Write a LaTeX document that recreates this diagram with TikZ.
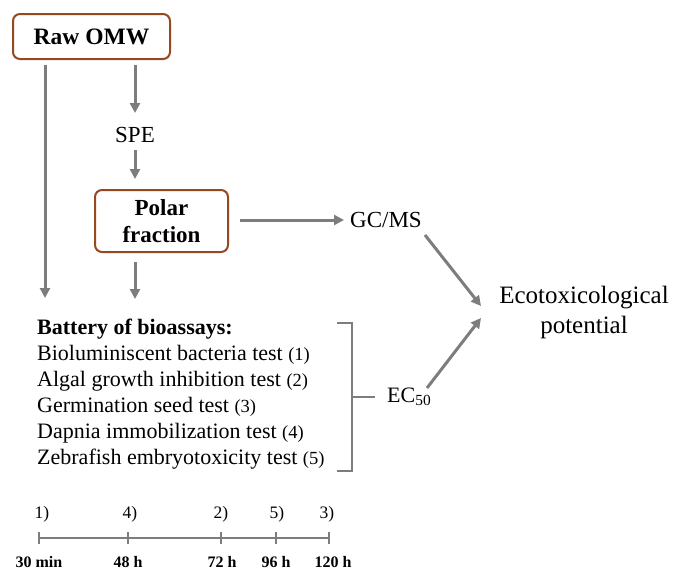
\documentclass[tikz,border=0pt]{standalone}
\usepackage{fontspec}
\setmainfont{Liberation Serif}
\usetikzlibrary{arrows.meta}
\definecolor{boxbrown}{RGB}{150,72,32}
\definecolor{arrgray}{RGB}{125,125,125}
\begin{document}
\begin{tikzpicture}[x=1pt,y=-1pt,
  box/.style={draw=boxbrown,line width=2pt,rounded corners=7pt,font=\bfseries\fontsize{23.5}{25}\selectfont,align=center,inner sep=0pt},
  arr/.style={draw=arrgray,line width=3pt,-{Triangle[length=10pt,width=10pt]}},
  ln/.style={draw=arrgray,line width=2.2pt},
  txt/.style={font=\fontsize{23}{25}\selectfont,inner sep=0pt},
  bat/.style={font=\fontsize{22}{24}\selectfont,inner sep=0pt,anchor=base west},
  lbl/.style={font=\fontsize{17.5}{19}\selectfont,inner sep=0pt},
  blbl/.style={font=\bfseries\fontsize{16}{18}\selectfont,inner sep=0pt}]
\useasboundingbox (0,0) rectangle (673,573);
\fill[white] (0,0) rectangle (673,573);
% boxes
\node[box,minimum width=157pt,minimum height=45pt] (raw) at (91.5,36.5) {Raw OMW};
\node[box,minimum width=133pt,minimum height=62pt,font=\bfseries\fontsize{23}{27}\selectfont] (polar) at (161.5,221) {Polar\\fraction};
\node[txt] (spe) at (135,135) {SPE};
\node[txt,anchor=west] (gcms) at (350,220) {GC/MS};
\node[txt,font=\fontsize{25}{30}\selectfont,align=center] (eco) at (584,312) {Ecotoxicological\\potential};
\node[txt,anchor=west,font=\fontsize{22}{24}\selectfont] (ec50) at (387,397) {EC\textsubscript{50}};
% battery list
\node[bat,font=\bfseries\fontsize{22}{24}\selectfont] (b0) at (37,334) {Battery of bioassays:};
\node[bat] (b1) at (37,360) {Bioluminiscent bacteria test {\fontsize{18.5}{20}\selectfont(1)}};
\node[bat] (b2) at (37,386) {Algal growth inhibition test {\fontsize{18.5}{20}\selectfont(2)}};
\node[bat] (b3) at (37,412) {Germination seed test {\fontsize{18.5}{20}\selectfont(3)}};
\node[bat] (b4) at (37,438) {Dapnia immobilization test {\fontsize{18.5}{20}\selectfont(4)}};
\node[bat] (b5) at (37,464) {Zebrafish embryotoxicity test {\fontsize{18.5}{20}\selectfont(5)}};
% coordinates
\coordinate (rawL) at (45,65);
\coordinate (rawLend) at (45,298);
\coordinate (rawM) at (135,65);
\coordinate (polB) at (135,262);
\coordinate (polBend) at (135,299);
% arrows
\draw[arr] (rawL) -- (rawLend);
\draw[arr] (rawM) -- (135,113);
\draw[arr] (135,150) -- (135,179);
\draw[arr] (polB) -- (polBend);
\draw[arr,shorten >=6pt] (240,220) -- (gcms.west);
\draw[arr] (425,235) -- (481,306);
\draw[arr] (427,388) -- (481,318);
% bracket
\draw[ln] (337,323) -- (352,323) -- (352,471) -- (337,471);
\draw[ln] (352,397) -- (375,397);
% timeline
\coordinate (t1) at (39,538);
\coordinate (t2) at (128,538);
\coordinate (t3) at (221,538);
\coordinate (t4) at (276,538);
\coordinate (t5) at (329,538);
\draw[ln,line width=2pt] (t1) -- (t5);
\foreach \t in {t1,t2,t3,t4,t5} \draw[ln,line width=1.6pt] ([yshift=-6pt]\t) -- ([yshift=6pt]\t);
\node[lbl] (l1) at (42,514) {1)};
\node[lbl] (l4) at (130,514) {4)};
\node[lbl] (l2) at (221,514) {2)};
\node[lbl] (l5) at (277,514) {5)};
\node[lbl] (l3) at (327,514) {3)};
\node[blbl] (d1) at (39,562) {30 min};
\node[blbl] (d2) at (128,562) {48 h};
\node[blbl] (d3) at (222,562) {72 h};
\node[blbl] (d4) at (276,562) {96 h};
\node[blbl] (d5) at (333,562) {120 h};
\end{tikzpicture}
\end{document}
